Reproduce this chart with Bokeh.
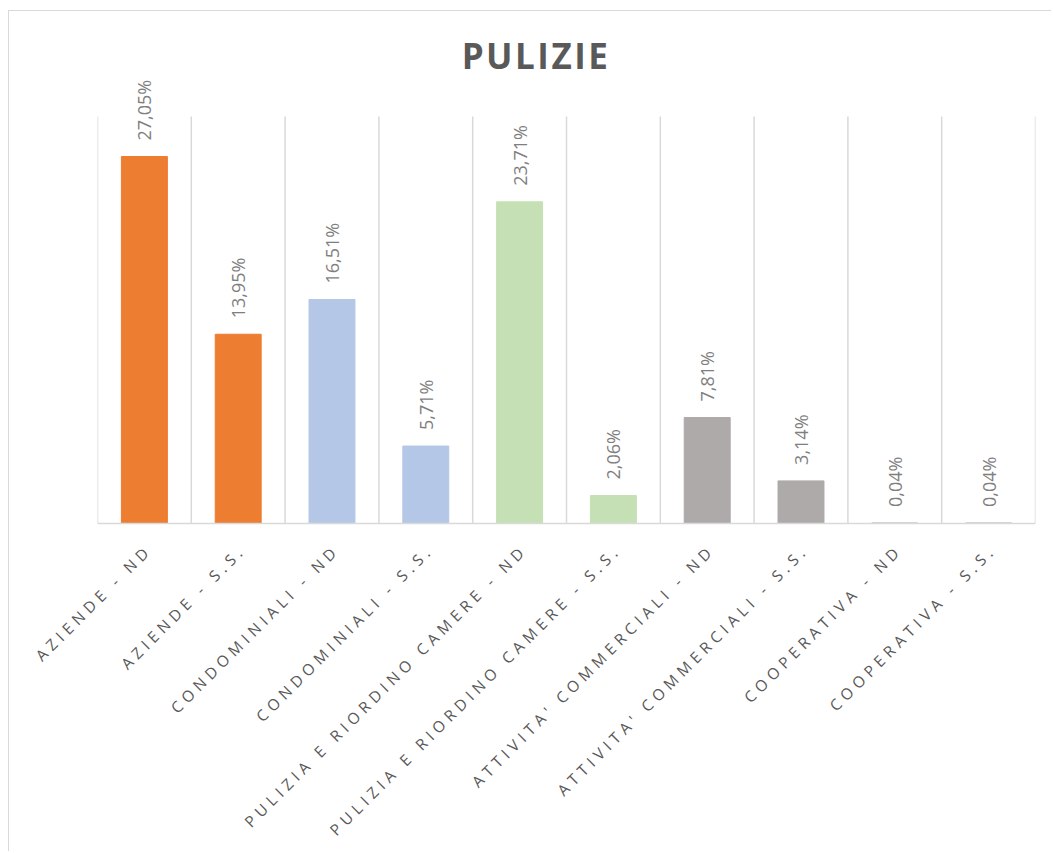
import math
from bokeh.plotting import figure
from bokeh.models import ColumnDataSource, Range1d, Div
from bokeh.layouts import column
from bokeh.core.properties import value
from bokeh.embed import file_html
from bokeh.resources import INLINE

title_text = "PULIZIE"
categories = [
    "AZIENDE - ND",
    "AZIENDE - S.S.",
    "CONDOMINIALI - ND",
    "CONDOMINIALI - S.S.",
    "PULIZIA E RIORDINO CAMERE - ND",
    "PULIZIA E RIORDINO CAMERE - S.S.",
    "ATTIVITA' COMMERCIALI - ND",
    "ATTIVITA' COMMERCIALI - S.S.",
    "COOPERATIVA - ND",
    "COOPERATIVA - S.S.",
]
values = [27.05, 13.95, 16.51, 5.71, 23.71, 2.06, 7.81, 3.14, 0.04, 0.04]
labels = ["27,05%", "13,95%", "16,51%", "5,71%", "23,71%", "2,06%", "7,81%", "3,14%", "0,04%", "0,04%"]
colors = ["#ED7D31", "#ED7D31", "#B4C7E7", "#B4C7E7", "#C5E0B4", "#C5E0B4",
          "#AEAAAA", "#AEAAAA", "#AEAAAA", "#AEAAAA"]

# ---- layout constants (pixels) ----
W = 1042
BORDER_L, BORDER_R = 88, 16
TITLE_H = 63
MAIN_H = 452
LABELS_H = 325
FRAME_W = W - BORDER_L - BORDER_R
PLOT_TOP_GAP = 449          # px from frame top to the baseline
Y_MAX_GRID = 30
PX_PER_UNIT = 407 / Y_MAX_GRID
LETTER_SP = 4.8

n = len(categories)
positions = [i + 0.5 for i in range(n)]
boundaries = list(range(n + 1))
GRID = "#D9D9D9"

# ---------- title ----------
title = Div(
    text=(f'<div style="font-family:\'Open Sans\';font-size:35px;font-weight:bold;'
          f'color:#595959;letter-spacing:2.5px;text-align:center;line-height:35px;'
          f'display:block;box-sizing:border-box;width:{W}px;'
          f'padding-top:27px;padding-left:12px;margin:0">{title_text}</div>'),
    width=W, height=TITLE_H, margin=0)

# ---------- bars ----------
x_range = Range1d(0, n)
y_end = PLOT_TOP_GAP / PX_PER_UNIT
y_start = -(MAIN_H - PLOT_TOP_GAP) / PX_PER_UNIT
src = ColumnDataSource(dict(x=positions, top=values, label=labels, color=colors))

p = figure(width=W, height=MAIN_H, output_backend="svg", toolbar_location=None,
           x_range=x_range, y_range=Range1d(y_start, y_end),
           min_border_left=BORDER_L, min_border_right=BORDER_R,
           min_border_top=0, min_border_bottom=0, margin=0)
p.frame_align = False
p.segment(x0=boundaries, y0=[0] * len(boundaries), x1=boundaries,
          y1=[Y_MAX_GRID] * len(boundaries), line_color=GRID, line_width=1.5)
p.vbar(x="x", top="top", bottom=0, width=0.49, color="color", source=src)
p.segment(x0=[0], y0=[0], x1=[n], y1=[0], line_color=GRID, line_width=1.5)
p.text(x="x", y="top", text="label", source=src, angle=math.pi / 2,
       text_align="left", text_baseline="middle", y_offset=-16,
       text_font=value("Open Sans"), text_font_size="18px", text_color="#7F7F7F")
p.outline_line_color = None
p.xaxis.visible = False
p.yaxis.visible = False
p.xgrid.visible = False
p.ygrid.visible = False

# ---------- category labels (rotated, letter-spaced) ----------
unit_px = FRAME_W / n
lab_range = Range1d(-BORDER_L / unit_px, n + BORDER_R / unit_px)
c = math.cos(math.pi / 4)
x_off = [1 - (len(t) - 1) * LETTER_SP * c for t in categories]
y_off = [24 + (len(t) - 1) * LETTER_SP * c for t in categories]
lsrc = ColumnDataSource(dict(x=positions, y=[0] * n, text=categories, xo=x_off, yo=y_off))

q = figure(width=W, height=LABELS_H, output_backend="svg", toolbar_location=None,
           x_range=lab_range, y_range=Range1d(-1, 0),
           min_border_left=0, min_border_right=0, min_border_top=0, min_border_bottom=0,
           margin=0)
q.frame_align = False
q.text(x="x", y="y", text="text", source=lsrc, angle=math.pi / 4,
       text_align="right", text_baseline="middle", x_offset="xo", y_offset="yo",
       text_font=value("Open Sans"), text_font_size="15.5px", text_color="#595959")
q.outline_line_color = None
q.xaxis.visible = False
q.yaxis.visible = False
q.xgrid.visible = False
q.ygrid.visible = False
q.styles = {"letter-spacing": f"{LETTER_SP}px"}

layout = column(title, p, q, spacing=0)
layout.styles = {"margin-left": "8px", "margin-top": "10px",
                 "border-left": f"1px solid {GRID}", "border-top": f"1px solid {GRID}"}

open("out.html", "w").write(file_html(layout, INLINE))
